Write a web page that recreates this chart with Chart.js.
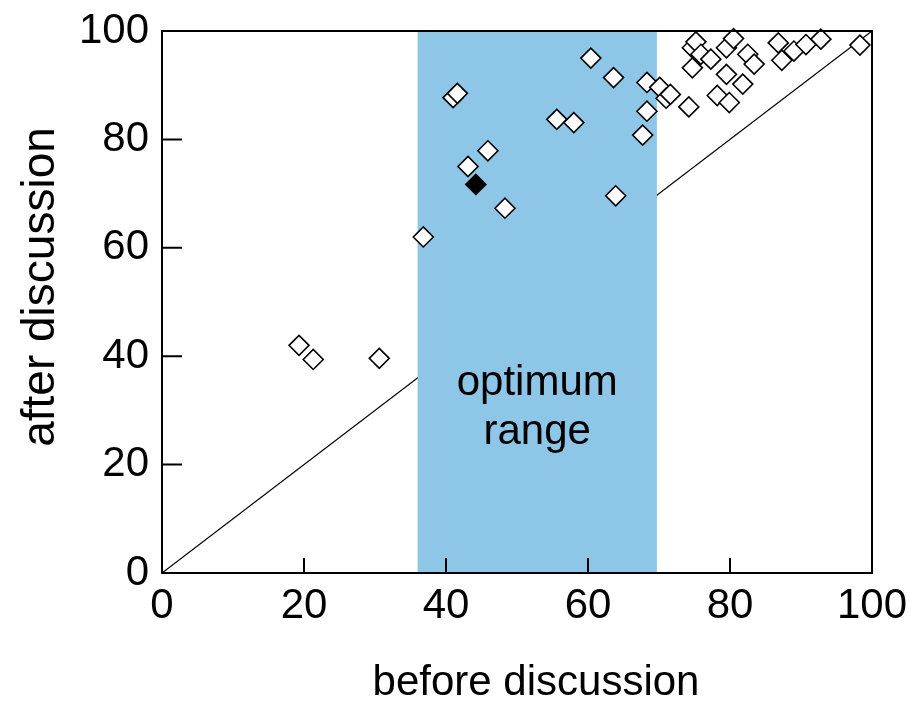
<!DOCTYPE html>
<html>
<head>
<meta charset="utf-8">
<script src="https://cdn.jsdelivr.net/npm/chart.js@4"></script>
<style>
  body { margin: 0; background: #fff; }
  #wrap { width: 918px; height: 703px; }
</style>
</head>
<body>
<div id="wrap"><canvas id="scatter-chart" width="918" height="703"></canvas></div>
<script>
// before / after discussion, open diamonds
const beforeOpen = [19.3, 21.3, 30.6, 36.8, 41.0, 41.6, 43.1, 45.9, 48.3, 55.6,
  58.0, 60.4, 63.6, 63.9, 67.7, 68.3, 68.3, 70.1, 71.0, 71.6,
  74.2, 74.7, 74.7, 75.2, 75.9, 77.3, 78.2, 79.5, 79.5, 79.9,
  80.5, 81.8, 82.5, 83.4, 86.8, 87.3, 89.0, 90.7, 92.8, 98.3];
const afterOpen = [42.0, 39.4, 39.6, 62.0, 87.7, 88.5, 75.0, 77.9, 67.3, 83.7,
  83.1, 95.0, 91.4, 69.6, 80.8, 85.2, 90.5, 89.6, 87.6, 88.3,
  86.0, 93.2, 96.9, 98.0, 95.7, 94.8, 88.1, 92.0, 96.9, 86.8,
  98.6, 90.2, 95.7, 93.9, 97.8, 94.6, 96.3, 97.5, 98.5, 97.4];
// the one filled diamond
const beforeFilled = [44.2];
const afterFilled = [71.7];
// shaded "optimum range" on the x axis
const optimumRange = [36, 69.7];
const diagonal = [0, 100];
const tickValues = [0, 20, 40, 60, 80, 100];

function toPoints(xs, ys) {
  return xs.map(function(x, i) { return { x: x, y: ys[i] }; });
}

const FONT = '"Liberation Sans", Arial, Helvetica, sans-serif';

// band goes over the diagonal but under the points, plus inward ticks, frame, titles
const framePlugin = {
  id: 'frame',
  afterDatasetDraw: function(chart, args) {
    if (args.index !== 2) return;
    const ctx = chart.ctx;
    const x = chart.scales.x, y = chart.scales.y;
    const a = chart.chartArea;
    const x0 = x.getPixelForValue(optimumRange[0]);
    const x1 = x.getPixelForValue(optimumRange[1]);
    ctx.save();
    ctx.fillStyle = '#8dc6e6';
    ctx.fillRect(x0, a.top, x1 - x0, a.bottom - a.top);
    ctx.fillStyle = '#000';
    ctx.font = '42px ' + FONT;
    ctx.textAlign = 'center';
    ctx.textBaseline = 'middle';
    const cx = x.getPixelForValue((optimumRange[0] + optimumRange[1]) / 2);
    ctx.fillText('optimum', cx, y.getPixelForValue(35));
    ctx.fillText('range', cx, y.getPixelForValue(26));
    ctx.restore();
  },
  afterDraw: function(chart) {
    const ctx = chart.ctx;
    const a = chart.chartArea;
    const x = chart.scales.x, y = chart.scales.y;
    ctx.save();
    ctx.strokeStyle = '#000';
    ctx.lineWidth = 2;
    ctx.strokeRect(a.left, a.top, a.right - a.left, a.bottom - a.top);
    ctx.beginPath();
    tickValues.slice(1, -1).forEach(function(v) {
      const px = x.getPixelForValue(v);
      ctx.moveTo(px, a.bottom);
      ctx.lineTo(px, a.bottom - 15);
      const py = y.getPixelForValue(v);
      ctx.moveTo(a.left, py);
      ctx.lineTo(a.left + 20, py);
    });
    ctx.stroke();

    // axis titles sit a little off-centre in the original
    ctx.fillStyle = '#000';
    ctx.font = '42px ' + FONT;
    ctx.textAlign = 'center';
    ctx.textBaseline = 'middle';
    ctx.fillText('before discussion', (a.left + a.right) / 2 + 19, 683);
    ctx.font = '46px ' + FONT;
    ctx.translate(41, (a.top + a.bottom) / 2 - 15);
    ctx.rotate(-Math.PI / 2);
    ctx.fillText('after discussion', 0, 0);
    ctx.restore();
  }
};

document.addEventListener('DOMContentLoaded', function() {
  const ctx = document.getElementById('scatter-chart').getContext('2d');
  new Chart(ctx, {
    type: 'scatter',
    data: {
      datasets: [{
        label: 'open',
        data: toPoints(beforeOpen, afterOpen),
        pointStyle: 'rectRot',
        pointRadius: 10,
        pointHoverRadius: 10,
        pointBackgroundColor: '#fff',
        pointBorderColor: '#000',
        pointBorderWidth: 1.6,
        clip: false,
        order: 1
      }, {
        label: 'filled',
        data: toPoints(beforeFilled, afterFilled),
        pointStyle: 'rectRot',
        pointRadius: 10,
        pointHoverRadius: 10,
        pointBackgroundColor: '#000',
        pointBorderColor: '#000',
        pointBorderWidth: 1.6,
        clip: false,
        order: 0
      }, {
        type: 'line',
        label: 'diagonal',
        data: toPoints(diagonal, diagonal),
        borderColor: '#000',
        borderWidth: 1.2,
        pointRadius: 0,
        fill: false,
        order: 2
      }]
    },
    options: {
      responsive: false,
      animation: false,
      layout: { padding: { top: 31, right: 46, left: 0, bottom: 0 } },
      plugins: {
        legend: { display: false },
        tooltip: { enabled: false }
      },
      scales: {
        x: {
          type: 'linear',
          min: 0,
          max: 100,
          afterFit: function(scale) {
            scale.height = 130;
            scale.paddingLeft = 0;
            scale.paddingRight = 0;
          },
          afterBuildTicks: function(scale) {
            scale.ticks = tickValues.map(function(v) { return { value: v }; });
          },
          grid: { display: false, drawTicks: false },
          border: { display: false },
          ticks: { color: '#000', padding: 8, font: { family: FONT, size: 42 } },
          title: { display: false }
        },
        y: {
          type: 'linear',
          min: 0,
          max: 100,
          afterFit: function(scale) {
            scale.width = 162;
            scale.paddingTop = 0;
            scale.paddingBottom = 0;
          },
          afterBuildTicks: function(scale) {
            scale.ticks = tickValues.map(function(v) { return { value: v }; });
          },
          grid: { display: false, drawTicks: false },
          border: { display: false },
          ticks: { color: '#000', padding: 13, font: { family: FONT, size: 42 } },
          title: { display: false }
        }
      }
    },
    plugins: [framePlugin]
  });
});
</script>
</body>
</html>
